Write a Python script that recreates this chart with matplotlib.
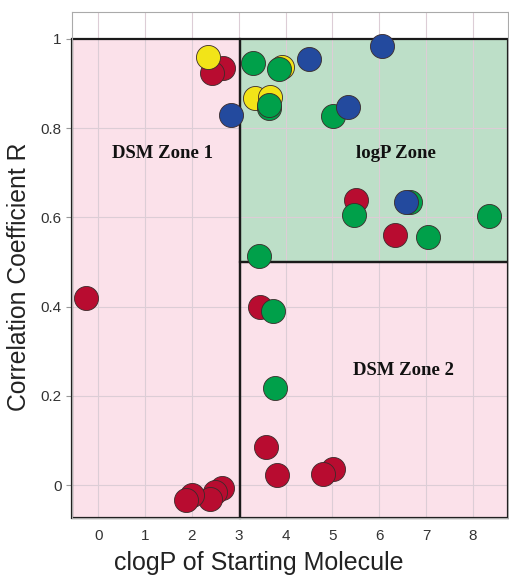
import matplotlib.pyplot as plt
from matplotlib.patches import Rectangle

# point data (clogP, R)
red_x = [2.67, 2.42, 5.51, 6.34, -0.26, 3.46, 3.58, 3.81, 5.01, 4.81, 2.64, 2.49, 2.39, 2.00, 1.87]
red_y = [0.934, 0.923, 0.639, 0.561, 0.419, 0.398, 0.085, 0.022, 0.037, 0.025, -0.007, -0.015, -0.032, -0.022, -0.034]

yellow_x = [2.35, 3.92, 3.35, 3.67]
yellow_y = [0.960, 0.938, 0.867, 0.869]

green_x = [3.31, 3.87, 3.65, 3.65, 5.01, 5.47, 6.66, 8.35, 7.05, 3.43, 3.73, 3.78]
green_y = [0.945, 0.932, 0.845, 0.852, 0.827, 0.605, 0.634, 0.602, 0.555, 0.513, 0.389, 0.217]

blue_x = [2.83, 4.51, 6.06, 5.34, 6.57]
blue_y = [0.830, 0.955, 0.985, 0.847, 0.634]

x_ticks = [0, 1, 2, 3, 4, 5, 6, 7, 8]
y_ticks = [0, 0.2, 0.4, 0.6, 0.8, 1.0]
y_tick_labels = ["0", "0.2", "0.4", "0.6", "0.8", "1"]

xmin, xmax = -0.56, 8.75
ymin, ymax = -0.074, 1.06
split_x, split_y = 3.02, 0.5

pink = "#fbe1ea"
green_bg = "#bddfc8"

fig = plt.figure(figsize=(5.09, 5.75), dpi=100)
ax = fig.add_axes([0.1415, 0.099, 0.8565, 0.88])

# zone backgrounds
zones = [
    (xmin, ymin, split_x - xmin, 1 - ymin, pink),
    (split_x, split_y, xmax - split_x, 1 - split_y, green_bg),
    (split_x, ymin, xmax - split_x, split_y - ymin, pink),
]
for x0, y0, w, h, c in zones:
    ax.add_patch(Rectangle((x0, y0), w, h, facecolor=c, edgecolor="none", zorder=0.1))
    ax.add_patch(Rectangle((x0, y0), w, h, facecolor="none", edgecolor="#1a1a1a",
                           linewidth=1.6, zorder=1.5, clip_on=False))

ax.grid(True, color="#dccdd6", linewidth=0.8)
ax.set_axisbelow(True)

ms = 300
ec = "#3a2a2a"
ax.scatter(red_x, red_y, s=ms, color="#b80c30", edgecolors=ec, linewidths=0.6, zorder=3)
ax.scatter(yellow_x, yellow_y, s=ms, color="#f2e418", edgecolors=ec, linewidths=0.6, zorder=3)
ax.scatter(green_x, green_y, s=ms, color="#00a04a", edgecolors=ec, linewidths=0.6, zorder=4)
ax.scatter(blue_x, blue_y, s=ms, color="#234a9e", edgecolors=ec, linewidths=0.6, zorder=5)

zfont = dict(family="Liberation Serif", fontweight="bold", fontsize=13.5, color="#111111")
ax.text(1.38, 0.744, "DSM Zone 1", ha="center", va="center", **zfont)
ax.text(6.36, 0.744, "logP Zone", ha="center", va="center", **zfont)
ax.text(6.52, 0.256, "DSM Zone 2", ha="center", va="center", **zfont)

ax.set_xlim(xmin, xmax)
ax.set_ylim(ymin, ymax)
ax.set_xticks(x_ticks)
ax.set_yticks(y_ticks)
ax.set_yticklabels(y_tick_labels)
ax.tick_params(axis="x", length=0, pad=8, labelsize=11, labelcolor="#333333")
ax.tick_params(axis="y", length=4, color="#999999", labelsize=11, labelcolor="#333333")
for lab in ax.get_xticklabels() + ax.get_yticklabels():
    lab.set_fontfamily("Liberation Sans")
for s in ax.spines.values():
    s.set_color("#aaaaaa")
    s.set_linewidth(0.8)

lfont = dict(family="Liberation Sans", color="#222222")
ax.set_xlabel("clogP of Starting Molecule", fontsize=18, **lfont)
ax.set_ylabel("Correlation Coefficient R", fontsize=17.8, **lfont)
ax.xaxis.set_label_coords(0.428, -0.065)
ax.yaxis.set_label_coords(-0.094, 0.477)

fig.savefig("out.png", dpi=100)
